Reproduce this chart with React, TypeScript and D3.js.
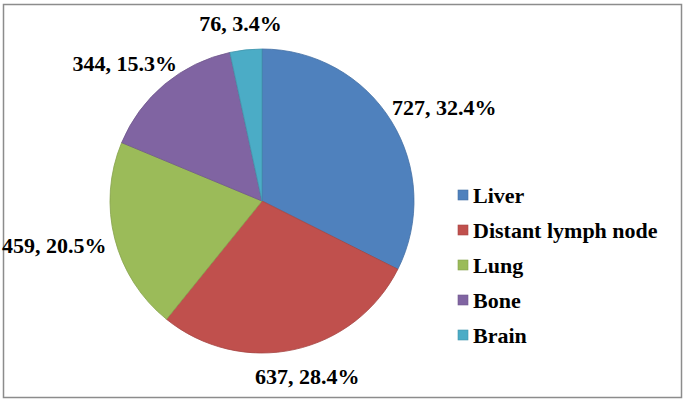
import React from 'react';
import * as d3 from 'd3';

const categories = ['Liver', 'Distant lymph node', 'Lung', 'Bone', 'Brain'];
const counts = [727, 637, 459, 344, 76];
const percents = ['32.4%', '28.4%', '20.5%', '15.3%', '3.4%'];
const colors = ['#4F81BD', '#C0504D', '#9BBB59', '#8064A2', '#4BACC6'];

const fontSize = 22;
const FONT = "'Liberation Serif', 'Times New Roman', Tinos, FreeSerif, serif";
const textStyle: React.CSSProperties = {
  fontFamily: FONT,
  fontWeight: 'bold',
  fontSize: `${fontSize}px`,
};

// text width via canvas, so the labels can sit just outside the pie
function measure(txt: string) {
  const ctx = document.createElement('canvas').getContext('2d');
  if (!ctx) return txt.length * fontSize * 0.45;
  ctx.font = `bold ${fontSize}px 'Liberation Serif'`;
  return ctx.measureText(txt).width;
}

function App() {
  const width = 686, height = 402;
  const cx = 262, cy = 201, radius = 152;

  const data = categories.map((c, i) => ({ name: c, value: counts[i], pct: percents[i], color: colors[i] }));
  const pie = d3.pie<any>().value(d => d.value).sort(null);
  const arcs = pie(data);
  const arc = d3.arc<any>().innerRadius(0).outerRadius(radius);
  const labelR = radius + 10;

  return (
    <svg width={width} height={height}
      style={{ position: 'absolute', left: 0, top: 0, display: 'block' }}>
      <rect width={width} height={height} fill="#fff" />
      <rect x={3.5} y={4.5} width={678} height={393} fill="none" stroke="#8c8c8c" strokeWidth={1.5} />
      <g transform={`translate(${cx},${cy})`}>
        {arcs.map((d, i) => (
          <path key={i} d={arc(d) || ''} fill={d.data.color}
            stroke={d3.color(d.data.color)!.darker(0.4).toString()} strokeWidth={0.8} />
        ))}
      </g>
      {arcs.map((d, i) => {
        const a = (d.startAngle + d.endAngle) / 2;
        const s = Math.sin(a), c = Math.cos(a);
        const txt = `${d.data.value}, ${d.data.pct}`;
        const w = measure(txt);
        const x = cx + labelR * s + (w / 2) * s;
        const y = cy - labelR * c - (fontSize / 2 + 6) * c + fontSize * 0.35;
        return (
          <text key={`l${i}`} x={x} y={y} textAnchor="middle" fontFamily={FONT}
            fontWeight="bold" fontSize={fontSize} fill="#000" style={textStyle}>{txt}</text>
        );
      })}
      {data.map((d, i) => (
        <rect key={`sw${i}`} x={458} y={190 + i * 35} width={10} height={10} fill={d.color}
          stroke={d3.color(d.color)!.darker(0.4).toString()} strokeWidth={0.6} />
      ))}
      {data.map((d, i) => (
        <text key={`lt${i}`} x={473} y={195 + i * 35 + fontSize * 0.35} fontFamily={FONT}
          fontWeight="bold" fontSize={fontSize} fill="#000" style={textStyle}>{d.name}</text>
      ))}
    </svg>
  );
}

export default App;
